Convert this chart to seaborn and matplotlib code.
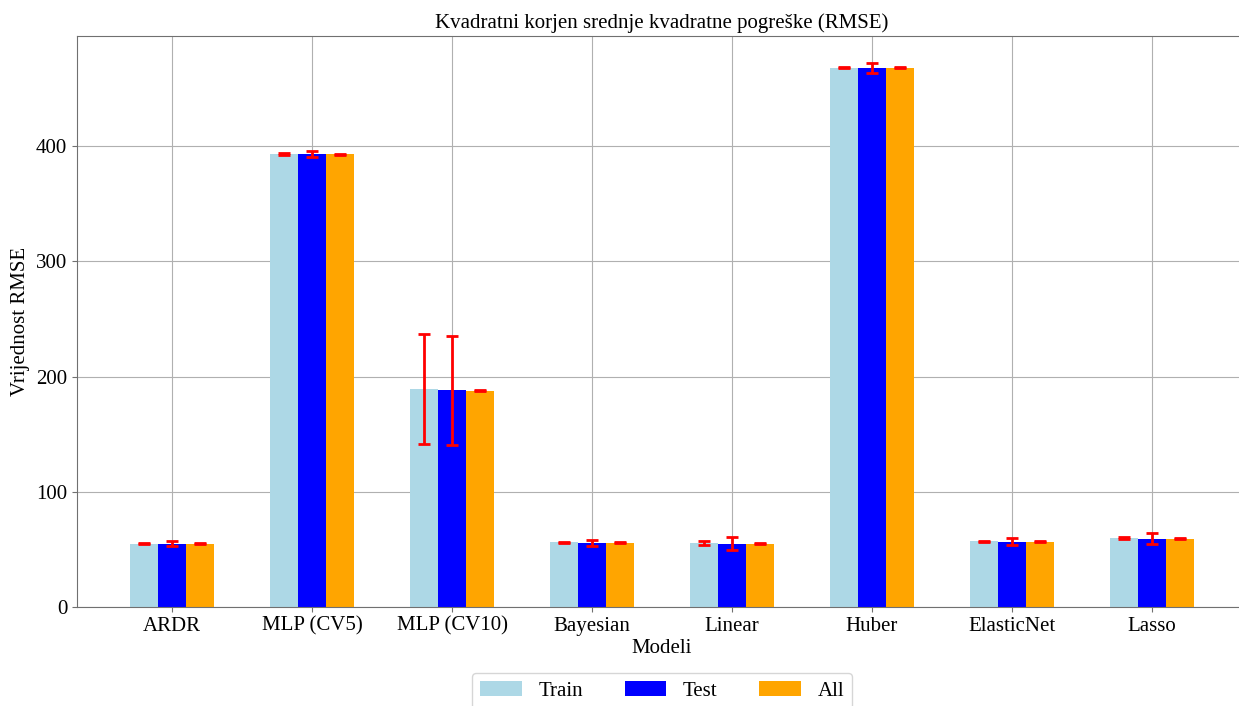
import matplotlib
matplotlib.use("Agg")
import matplotlib.pyplot as plt
import pandas as pd
import seaborn as sns

models = ["ARDR", "MLP (CV5)", "MLP (CV10)", "Bayesian", "Linear", "Huber", "ElasticNet", "Lasso"]
sets = ["Train", "Test", "All"]

rmse_train = [55.0, 393.0, 189.0, 56.0, 55.5, 468.0, 57.0, 59.8]
rmse_test = [55.0, 392.8, 188.0, 55.9, 55.0, 467.7, 56.8, 59.3]
rmse_all = [55.0, 392.8, 187.8, 55.9, 55.0, 467.8, 56.8, 59.4]

err_train = [0.6, 0.6, 47.9, 0.6, 2.0, 0.6, 0.6, 1.0]
err_test = [2.2, 2.5, 47.0, 2.6, 5.7, 4.0, 3.2, 4.5]
err_all = [0.4, 0.4, 0.6, 0.4, 0.4, 0.4, 0.4, 0.4]

colors = ["lightblue", "blue", "orange"]

df = pd.DataFrame({
    "model": models * 3,
    "set": [s for s in sets for _ in models],
    "rmse": rmse_train + rmse_test + rmse_all,
})
errors = [err_train, err_test, err_all]

plt.rcParams["font.family"] = ["Liberation Serif", "DejaVu Serif"]
plt.rcParams["axes.edgecolor"] = "#707070"
plt.rcParams["xtick.color"] = "#707070"
plt.rcParams["ytick.color"] = "#707070"
plt.rcParams["xtick.labelcolor"] = "black"
plt.rcParams["ytick.labelcolor"] = "black"

fig = plt.figure(figsize=(12.39, 7.06), dpi=100)
ax = fig.add_axes([77 / 1239, 99 / 706, 1170 / 1239, 571 / 706])

sns.barplot(data=df, x="model", y="rmse", hue="set", order=models, hue_order=sets,
            palette=colors, saturation=1, width=0.6, errorbar=None, linewidth=0, ax=ax)

for container, err in zip(ax.containers, errors):
    xs = [b.get_x() + b.get_width() / 2 for b in container]
    ys = [b.get_height() for b in container]
    ax.errorbar(xs, ys, yerr=err, fmt="none", ecolor="red", elinewidth=2,
                capsize=4, capthick=2, zorder=5)

ax.set_xlim(-0.68, 7.68)
ax.set_ylim(0, 495.5)
ax.set_axisbelow(True)
ax.grid(True, color="#b0b0b0", linewidth=0.8)
ax.tick_params(labelsize=15)

ax.set_title("Kvadratni korjen srednje kvadratne pogreške (RMSE)", fontsize=15)
ax.set_xlabel("Modeli", fontsize=15, labelpad=2)
ax.set_ylabel("Vrijednost RMSE", fontsize=15)

ax.legend(loc="upper center", bbox_to_anchor=(0.5, -0.097), ncol=3, fontsize=15,
          columnspacing=2.0, handlelength=2.0)

fig.savefig("out.png", dpi=100)
